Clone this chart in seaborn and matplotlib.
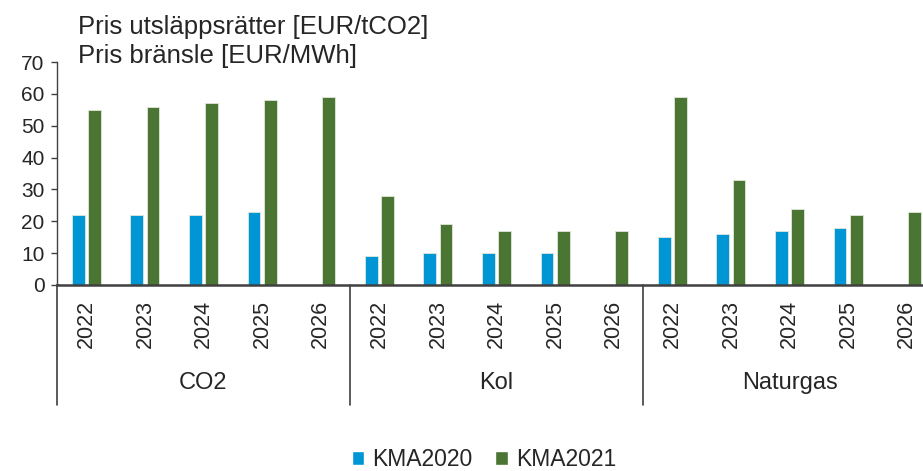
import numpy as np
import pandas as pd
import matplotlib
matplotlib.use("Agg")
import matplotlib.pyplot as plt
from matplotlib.lines import Line2D
from matplotlib.patches import Patch
import seaborn as sns

sns.set_theme(style="white")
plt.rcParams["font.family"] = ["Liberation Sans", "DejaVu Sans"]

# ── data ──────────────────────────────────────────────
groups = ["CO2", "Kol", "Naturgas"]
years = ["2022", "2023", "2024", "2025", "2026"]
series = ["KMA2020", "KMA2021"]
kma2020 = [22, 22, 22, 23, np.nan,
           9, 10, 10, 10, np.nan,
           15, 16, 17, 18, np.nan]
kma2021 = [55, 56, 57, 58, 59,
           28, 19, 17, 17, 17,
           59, 33, 24, 22, 23]

COLORS = ["#0096D6", "#4A7533"]

cats = [f"{g}|{y}" for g in groups for y in years]
df = pd.DataFrame({
    "cat": cats * 2,
    "serie": [series[0]] * len(cats) + [series[1]] * len(cats),
    "value": kma2020 + kma2021,
})

fig = plt.figure(figsize=(9.23, 4.71), dpi=100)
ax = fig.add_axes([57 / 923, 186 / 471, 879 / 923, 223 / 471])

sns.barplot(data=df, x="cat", y="value", hue="serie", order=cats,
            hue_order=series, palette=COLORS, saturation=1,
            width=0.55, gap=0.2, edgecolor="#dfe8da", linewidth=0.6,
            legend=False, ax=ax)

ax.set_ylim(0, 70)
ax.set_yticks(range(0, 71, 10))
ax.set_xlabel("")
ax.set_ylabel("")
ax.set_xticks(range(len(cats)))
ax.set_xticklabels([c.split("|")[1] for c in cats], rotation=90)
ax.tick_params(axis="x", length=0, pad=11, labelsize=15.5)
ax.tick_params(axis="y", length=4, width=1, color="#404040",
               direction="out", left=True, pad=5, labelsize=15)
for s in ["top", "right"]:
    ax.spines[s].set_visible(False)
ax.spines["left"].set_color("#404040")
ax.spines["left"].set_linewidth(1.0)
ax.spines["bottom"].set_color("#404040")
ax.spines["bottom"].set_linewidth(1.8)

# short stub of the x axis line left of the y axis
ax.add_line(Line2D([50 / 923, 58 / 923], [186 / 471, 186 / 471],
                   transform=fig.transFigure, color="#404040", lw=1.8))

# group separators and group labels
trans = ax.get_xaxis_transform()
n = len(years)
for i, g in enumerate(groups):
    x0 = i * n - 0.5
    ax.add_line(Line2D([x0, x0], [0, -0.54], transform=trans,
                       color="#404040", lw=1.2, clip_on=False))
    ax.text(x0 + n / 2, -0.466, g, transform=trans, ha="center",
            va="baseline", fontsize=17)

fig.text(78 / 923, 1 - 34 / 471, "Pris utsläppsrätter [EUR/tCO2]",
         fontsize=18.5, va="baseline", ha="left")
fig.text(78 / 923, 1 - 63 / 471, "Pris bränsle [EUR/MWh]",
         fontsize=18.5, va="baseline", ha="left")

handles = [Patch(facecolor=c, label=s) for c, s in zip(COLORS, series)]
fig.legend(handles=handles, loc="center", bbox_to_anchor=(484 / 923, 1 - 460 / 471),
           ncol=2, frameon=False, fontsize=16.5, handlelength=0.55,
           handleheight=0.55, handletextpad=0.35, columnspacing=1.0)

fig.savefig("out.png", dpi=100)
